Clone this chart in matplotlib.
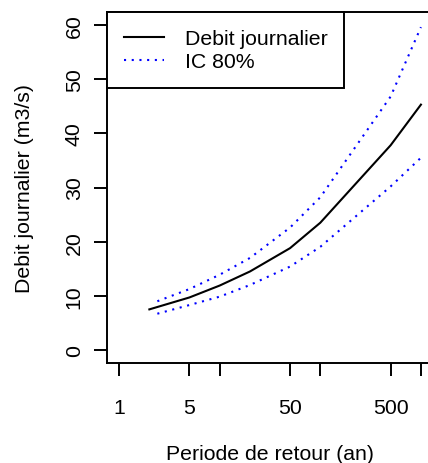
import matplotlib
matplotlib.use('Agg')
import matplotlib.pyplot as plt

# return periods (years) and daily discharge (m3/s)
periode = [2, 5, 10, 20, 50, 100, 500, 1000]
debit = [7.5, 9.7, 11.9, 14.5, 18.8, 23.5, 37.8, 45.3]

# 80% confidence interval
periode_ic = [2.4, 5, 10, 20, 50, 100, 500, 1000]
ic_bas = [6.7, 8.3, 9.85, 12.0, 15.4, 19.05, 30.2, 35.5]
ic_haut = [9.0, 11.25, 13.9, 17.0, 22.6, 28.2, 46.8, 59.6]

x_ticks = [1, 5, 10, 50, 100, 500, 1000]
x_labels = ['1', '5', '', '50', '', '500', '']
y_ticks = [0, 10, 20, 30, 40, 50, 60]

plt.rcParams['font.family'] = ['Liberation Sans', 'DejaVu Sans']
fs = 15.3

fig = plt.figure(figsize=(4.28, 4.64), dpi=100)
ax = fig.add_axes([0.25, 0.2155, 0.7617, 0.7565])

ax.plot(periode, debit, color='black', lw=1.5, label='Debit journalier')
ax.plot(periode_ic, ic_haut, color='#0000ff', lw=1.5, linestyle=(0, (1, 2.7)),
        label='IC 80%')
ax.plot(periode_ic, ic_bas, color='#0000ff', lw=1.5, linestyle=(0, (1, 2.7)))

ax.set_xscale('log')
ax.set_xlim(10 ** -0.12, 10 ** 3.12)
ax.set_ylim(-2.4, 62.4)
ax.set_xticks(x_ticks)
ax.set_xticklabels(x_labels)
ax.minorticks_off()
ax.set_yticks(y_ticks)
ax.set_yticklabels([str(v) for v in y_ticks], rotation=90, va='center')

ax.tick_params(direction='out', length=9.2, width=1.4, labelsize=fs)
ax.tick_params(axis='x', pad=16)
ax.tick_params(axis='y', pad=7.5)
for s in ax.spines.values():
    s.set_linewidth(1.4)

ax.set_xlabel('Periode de retour (an)', fontsize=fs, labelpad=19.5)
ax.set_ylabel('Debit journalier (m3/s)', fontsize=fs, labelpad=22.5)

leg = ax.legend(loc='upper left', fontsize=fs, borderaxespad=0, fancybox=False,
                framealpha=1, edgecolor='black', handlelength=1.9,
                handletextpad=0.95, labelspacing=0.2, borderpad=0.8)
leg.get_frame().set_linewidth(1.4)

fig.savefig('out.png', dpi=100)
